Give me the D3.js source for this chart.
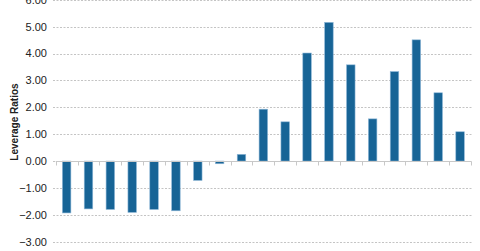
<!DOCTYPE html>
<html>
<head>
<meta charset="utf-8">
<script src="https://cdn.jsdelivr.net/npm/d3@7"></script>
<style>
  body { margin: 0; background: #fff; }
  svg { display: block; font-family: "Liberation Sans", Arial, sans-serif; }
</style>
</head>
<body>
<div id="chart"></div>
<script>
// Leverage ratio per period (categories are not labelled in the picture).
var periods = d3.range(1, 20).map(function (i) { return "P" + i; });
var ratios = [-1.93, -1.78, -1.80, -1.91, -1.80, -1.85, -0.72, -0.10, 0.25,
  1.93, 1.46, 4.02, 5.16, 3.58, 1.57, 3.33, 4.51, 2.54, 1.09];
var yTicks = [-3, -2, -1, 0, 1, 2, 3, 4, 5, 6];

var width = 480;
var height = 251;

var svg = d3.select("#chart")
  .append("svg")
  .attr("width", width)
  .attr("height", height);

// Scales.
var x = d3.scaleBand()
  .domain(periods)
  .range([55.7, 471])
  .padding(0);

var y = d3.scaleLinear()
  .domain([-3, 6])
  .range([241.7, -0.2]);

// Dashed gridlines.
svg.append("g")
  .selectAll("line")
  .data(yTicks)
  .enter()
  .append("line")
  .attr("x1", 53)
  .attr("x2", 472)
  .attr("y1", function (d) { return Math.round(y(d)) + 0.5; })
  .attr("y2", function (d) { return Math.round(y(d)) + 0.5; })
  .attr("stroke", "#c4c4c4")
  .attr("stroke-dasharray", "2,1.5");

// Y axis tick labels.
svg.append("g")
  .selectAll("text")
  .data(yTicks)
  .enter()
  .append("text")
  .attr("x", 47)
  .attr("y", function (d) { return y(d); })
  .attr("dy", "0.35em")
  .attr("text-anchor", "end")
  .attr("font-size", "11px")
  .attr("fill", "#222")
  .text(function (d) { return d3.format(".2f")(d); });

// Axis title.
svg.append("text")
  .attr("transform", "translate(18," + 122 + ") rotate(-90)")
  .attr("text-anchor", "middle")
  .attr("font-size", "10px")
  .attr("font-weight", "bold")
  .attr("fill", "#222")
  .text("Leverage Ratios");

// Bars.
var barW = x.bandwidth() * 0.39;
svg.append("g")
  .selectAll("rect")
  .data(ratios)
  .enter()
  .append("rect")
  .attr("x", function (d, i) { return x(periods[i]) + (x.bandwidth() - barW) / 2; })
  .attr("y", function (d) { return y(Math.max(0, d)); })
  .attr("width", barW)
  .attr("height", function (d) { return Math.abs(y(d) - y(0)); })
  .attr("fill", "#176496")
  .attr("stroke", "#8fb8d8")
  .attr("stroke-width", 0.6);

// Zero axis with category ticks.
var zeroY = Math.round(y(0)) + 0.5;
var axis = svg.append("g");
axis.append("line")
  .attr("x1", 55.7)
  .attr("x2", 471)
  .attr("y1", zeroY)
  .attr("y2", zeroY)
  .attr("stroke", "#c8c8c8")
  .attr("stroke-width", 1.2);

axis.selectAll(".tick")
  .data(periods.concat(["end"]))
  .enter()
  .append("line")
  .attr("class", "tick")
  .attr("x1", function (d, i) { return Math.round(55.7 + i * x.step()) + 0.5; })
  .attr("x2", function (d, i) { return Math.round(55.7 + i * x.step()) + 0.5; })
  .attr("y1", zeroY)
  .attr("y2", zeroY + 4)
  .attr("stroke", "#c8c8c8");
</script>
</body>
</html>
